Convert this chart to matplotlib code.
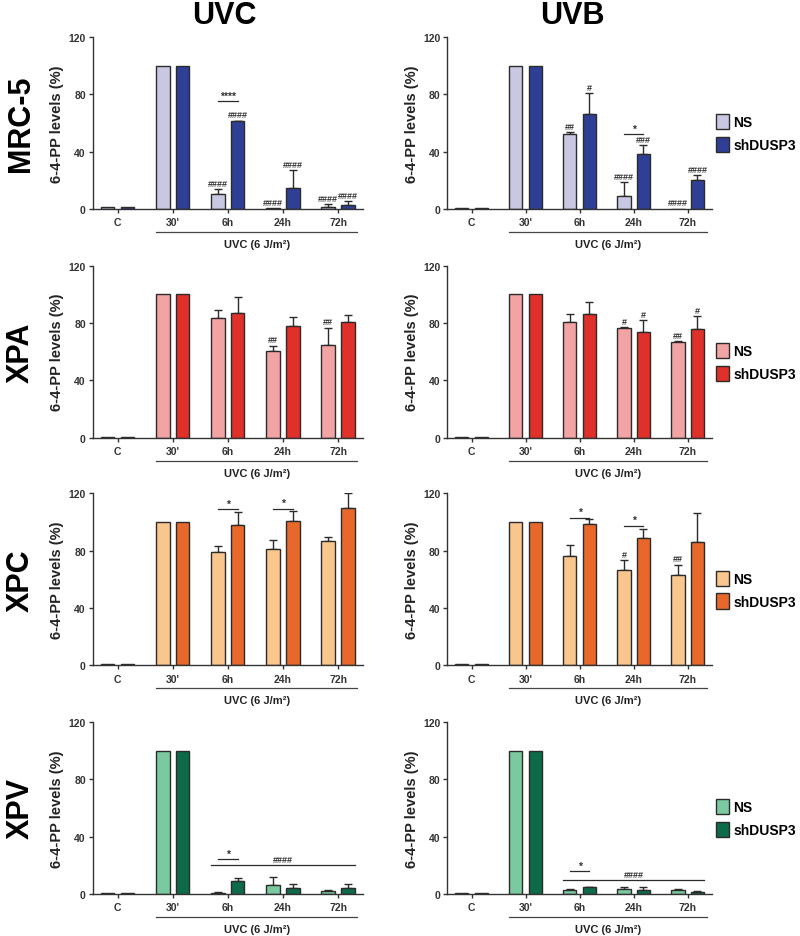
import matplotlib
matplotlib.use('Agg')
import matplotlib.pyplot as plt
import numpy as np
from matplotlib.patches import Patch

plt.rcParams['font.family'] = ['Liberation Sans', 'DejaVu Sans']
plt.rcParams['font.weight'] = 'bold'

groups = ['C', "30'", '6h', '24h', '72h']
cell_lines = ['MRC-5', 'XPA', 'XPC', 'XPV']
sources = ['UVC', 'UVB']
dose_label = 'UVC (6 J/m²)'

# MRC-5
mrc5_uvc_ns = [1, 100, 10.7, 0.3, 1.6]
mrc5_uvc_ns_err = [0, 0, 3, 0, 1.5]
mrc5_uvc_sh = [1, 100, 61.3, 14.9, 2.7]
mrc5_uvc_sh_err = [0, 0, 0.3, 12, 3]
mrc5_uvc_ns_sig = ['', '', '####', '####', '####']
mrc5_uvc_sh_sig = ['', '', '####', '####', '####']
mrc5_uvc_star = [(2, 75, '****')]

mrc5_uvb_ns = [0.5, 100, 52.5, 9, 0.2]
mrc5_uvb_ns_err = [0, 0, 1, 9.5, 0]
mrc5_uvb_sh = [0.5, 100, 66, 38.5, 20.5]
mrc5_uvb_sh_err = [0, 0, 15, 6, 3]
mrc5_uvb_ns_sig = ['', '', '##', '####', '####']
mrc5_uvb_sh_sig = ['', '', '#', '###', '####']
mrc5_uvb_star = [(3, 52, '*')]

# XPA
xpa_uvc_ns = [0.5, 100, 83.7, 60.7, 64.9]
xpa_uvc_ns_err = [0, 0, 5, 3.5, 11.8]
xpa_uvc_sh = [0.5, 100, 86.7, 77.8, 80.9]
xpa_uvc_sh_err = [0, 0, 11.7, 6.6, 4.4]
xpa_uvc_ns_sig = ['', '', '', '##', '##']
xpa_uvc_sh_sig = ['', '', '', '', '']
xpa_uvc_star = []

xpa_uvb_ns = [0.5, 100, 80.6, 76.6, 66.6]
xpa_uvb_ns_err = [0, 0, 5.9, 0.5, 0.5]
xpa_uvb_sh = [0.5, 100, 86, 73.8, 76]
xpa_uvb_sh_err = [0, 0, 8.7, 8, 9]
xpa_uvb_ns_sig = ['', '', '', '#', '##']
xpa_uvb_sh_sig = ['', '', '', '#', '#']
xpa_uvb_star = []

# XPC
xpc_uvc_ns = [0.5, 100, 78.8, 81, 86.4]
xpc_uvc_ns_err = [0, 0, 4.5, 6.5, 3]
xpc_uvc_sh = [0.5, 100, 98.1, 100.5, 109.9]
xpc_uvc_sh_err = [0, 0, 8.7, 7, 10.3]
xpc_uvc_ns_sig = ['', '', '', '', '']
xpc_uvc_sh_sig = ['', '', '', '', '']
xpc_uvc_star = [(2, 108.7, '*'), (3, 109, '*')]

xpc_uvb_ns = [0.8, 100, 76, 66.2, 63.2]
xpc_uvb_ns_err = [0, 0, 8.2, 7.1, 7]
xpc_uvb_sh = [0.8, 100, 98.7, 88.9, 85.9]
xpc_uvb_sh_err = [0, 0, 3.5, 6.5, 20.1]
xpc_uvb_ns_sig = ['', '', '', '#', '##']
xpc_uvb_sh_sig = ['', '', '', '', '']
xpc_uvb_star = [(2, 103, '*'), (3, 97.5, '*')]

# XPV
xpv_uvc_ns = [0.5, 100, 0.7, 6.4, 2.1]
xpv_uvc_ns_err = [0, 0, 0.3, 5.4, 0.5]
xpv_uvc_sh = [0.5, 100, 8.7, 4, 4]
xpv_uvc_sh_err = [0, 0, 2.3, 2.6, 2.6]
xpv_uvc_ns_sig = ['', '', '', '', '']
xpv_uvc_sh_sig = ['', '', '', '', '']
xpv_uvc_star = [(2, 24.2, '*')]
xpv_uvc_span = (20, '####')

xpv_uvb_ns = [0.5, 100, 2.4, 3.5, 3]
xpv_uvb_ns_err = [0, 0, 0.7, 1.2, 0.5]
xpv_uvb_sh = [0.5, 100, 4.7, 2.4, 1.2]
xpv_uvb_sh_err = [0, 0, 0.3, 2.3, 0.6]
xpv_uvb_ns_sig = ['', '', '', '', '']
xpv_uvb_sh_sig = ['', '', '', '', '']
xpv_uvb_star = [(2, 15.8, '*')]
xpv_uvb_span = (9.4, '####')

colors = {
    'MRC-5': ('#c9c8e2', '#2f3f95'),
    'XPA': ('#f2a3a3', '#df3029'),
    'XPC': ('#f9c68d', '#e8682b'),
    'XPV': ('#7bc9a1', '#0e6b4a'),
}

panels = {
    ('MRC-5', 'UVC'): (mrc5_uvc_ns, mrc5_uvc_ns_err, mrc5_uvc_sh, mrc5_uvc_sh_err, mrc5_uvc_ns_sig, mrc5_uvc_sh_sig, mrc5_uvc_star, None),
    ('MRC-5', 'UVB'): (mrc5_uvb_ns, mrc5_uvb_ns_err, mrc5_uvb_sh, mrc5_uvb_sh_err, mrc5_uvb_ns_sig, mrc5_uvb_sh_sig, mrc5_uvb_star, None),
    ('XPA', 'UVC'): (xpa_uvc_ns, xpa_uvc_ns_err, xpa_uvc_sh, xpa_uvc_sh_err, xpa_uvc_ns_sig, xpa_uvc_sh_sig, xpa_uvc_star, None),
    ('XPA', 'UVB'): (xpa_uvb_ns, xpa_uvb_ns_err, xpa_uvb_sh, xpa_uvb_sh_err, xpa_uvb_ns_sig, xpa_uvb_sh_sig, xpa_uvb_star, None),
    ('XPC', 'UVC'): (xpc_uvc_ns, xpc_uvc_ns_err, xpc_uvc_sh, xpc_uvc_sh_err, xpc_uvc_ns_sig, xpc_uvc_sh_sig, xpc_uvc_star, None),
    ('XPC', 'UVB'): (xpc_uvb_ns, xpc_uvb_ns_err, xpc_uvb_sh, xpc_uvb_sh_err, xpc_uvb_ns_sig, xpc_uvb_sh_sig, xpc_uvb_star, None),
    ('XPV', 'UVC'): (xpv_uvc_ns, xpv_uvc_ns_err, xpv_uvc_sh, xpv_uvc_sh_err, xpv_uvc_ns_sig, xpv_uvc_sh_sig, xpv_uvc_star, xpv_uvc_span),
    ('XPV', 'UVB'): (xpv_uvb_ns, xpv_uvb_ns_err, xpv_uvb_sh, xpv_uvb_sh_err, xpv_uvb_ns_sig, xpv_uvb_sh_sig, xpv_uvb_star, xpv_uvb_span),
}

EDGE = '#2b2b2b'
OFF = 0.18
WIDTH = 0.245


def draw_bars(ax, x, vals, errs, sigs, color):
    vals = np.array(vals, dtype=float)
    errs = np.array(errs, dtype=float)
    ax.bar(x, vals, WIDTH, color=color, edgecolor=EDGE, linewidth=1.0, zorder=2)
    keep = errs > 0
    ax.errorbar(x[keep], vals[keep], yerr=[np.zeros(keep.sum()), errs[keep]],
                fmt='none', ecolor=EDGE, elinewidth=1.0, capsize=3, capthick=1.0, zorder=1)
    for xi, v, e, s in zip(x, vals, errs, sigs):
        if s:
            ax.text(xi, v + e + 0.8, s, ha='center', va='bottom', fontsize=6.5,
                    fontweight='bold', color='#333333')


def draw_panel(ax, cell, source, show_legend):
    ns, ns_err, sh, sh_err, ns_sig, sh_sig, stars, span = panels[(cell, source)]
    c_ns, c_sh = colors[cell]
    x = np.arange(len(groups))
    draw_bars(ax, x - OFF, ns, ns_err, ns_sig, c_ns)
    draw_bars(ax, x + OFF, sh, sh_err, sh_sig, c_sh)

    for g, y, s in stars:
        ax.plot([g - OFF, g + OFF], [y, y], color=EDGE, lw=0.9)
        ax.text(g, y + 0.5, s, ha='center', va='bottom', fontsize=7.5, fontweight='bold', color='#333333')
    if span is not None:
        y, s = span
        ax.plot([2 - OFF - 0.12, 4 + OFF + 0.12], [y, y], color=EDGE, lw=0.9)
        ax.text(3, y + 0.8, s, ha='center', va='bottom', fontsize=6.5, fontweight='bold', color='#333333')

    ax.set_xlim(-0.45, 4.45)
    ax.set_ylim(0, 120)
    ax.set_yticks([0, 40, 80, 120])
    ax.set_xticks(x)
    ax.set_xticklabels(groups, fontsize=7.5, fontweight='bold')
    ax.tick_params(axis='y', labelsize=7.5, length=3, width=1, colors='#333333', pad=2)
    ax.tick_params(axis='x', length=3, width=1, colors='#333333', pad=3)
    for lab in ax.get_yticklabels():
        lab.set_fontweight('bold')
    for side in ['top', 'right']:
        ax.spines[side].set_visible(False)
    for side in ['left', 'bottom']:
        ax.spines[side].set_color('#333333')
        ax.spines[side].set_linewidth(1.0)
    ax.set_ylabel('6-4-PP levels (%)', fontsize=10.5, fontweight='bold', labelpad=3, color='#222222')

    # dose bracket below x axis
    tr = ax.get_xaxis_transform()
    ax.plot([1 - OFF - WIDTH / 2, 4.35], [-0.135, -0.135], color='#444444', lw=0.9,
            transform=tr, clip_on=False)
    ax.text((1 - OFF - WIDTH / 2 + 4.35) / 2, -0.205, dose_label, transform=tr, ha='center',
            va='center', fontsize=8, fontweight='bold', color='#222222')

    if show_legend:
        handles = [Patch(facecolor=c_ns, edgecolor=EDGE, linewidth=1.0, label='NS'),
                   Patch(facecolor=c_sh, edgecolor=EDGE, linewidth=1.0, label='shDUSP3')]
        ax.legend(handles=handles, loc='center left', bbox_to_anchor=(1.0, 0.44), frameon=False,
                  handlelength=0.9, handleheight=1.3, handletextpad=0.35,
                  labelspacing=0.55, borderpad=0.2, borderaxespad=0.1,
                  prop={'family': 'Liberation Sans', 'weight': 'bold', 'size': 10})


fig = plt.figure(figsize=(8, 9.37), dpi=100)
row_bottoms = [0.776, 0.532, 0.289, 0.045]
row_h = 0.1835
col_left = [0.116, 0.559]
col_w = [0.3375, 0.331]

for r, cell in enumerate(cell_lines):
    for c, source in enumerate(sources):
        ax = fig.add_axes([col_left[c], row_bottoms[r], col_w[c], row_h])
        draw_panel(ax, cell, source, show_legend=(c == 1))
    fig.text(0.026, row_bottoms[r] + row_h / 2, cell, rotation=90, ha='center', va='center',
             fontsize=22, fontweight='bold')

fig.text(0.281, 0.983, 'UVC', ha='center', va='center', fontsize=22, fontweight='bold')
fig.text(0.716, 0.983, 'UVB', ha='center', va='center', fontsize=22, fontweight='bold')

plt.savefig('out.png', dpi=100)
plt.close()
